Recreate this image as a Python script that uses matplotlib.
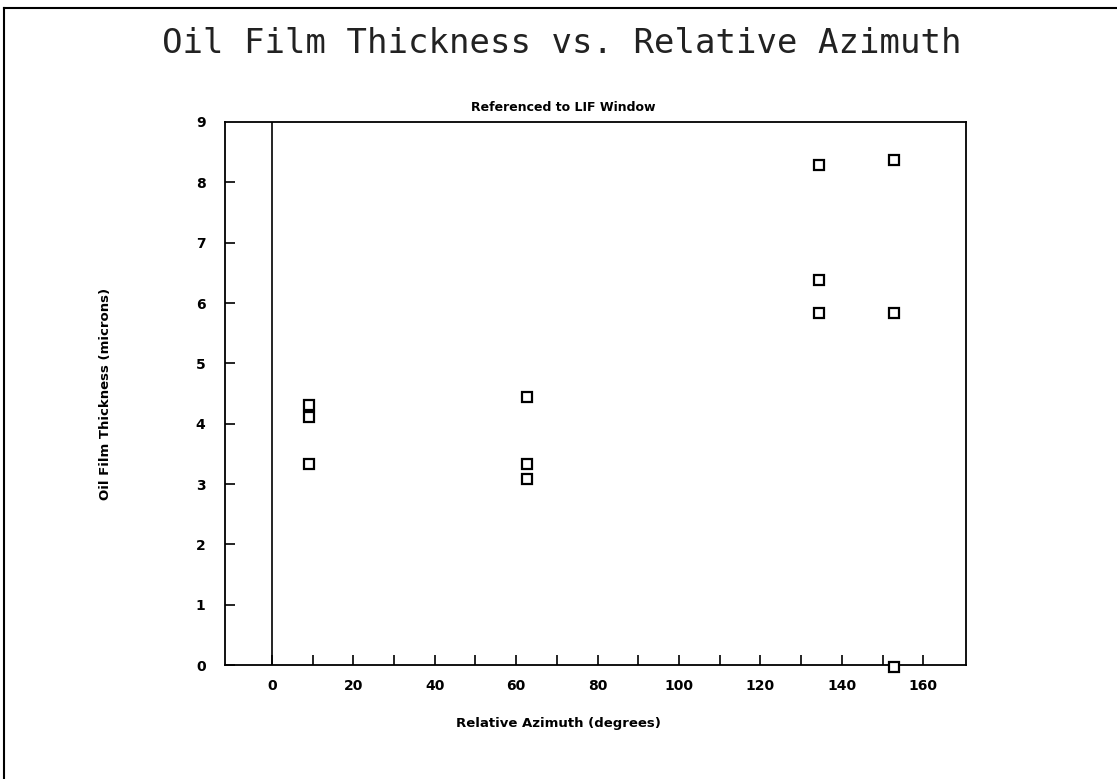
import matplotlib.pyplot as plt
from matplotlib.lines import Line2D

# data
azimuth = [9.2, 9.2, 9.2, 62.6, 62.6, 62.6, 134.4, 134.4, 134.4, 152.8, 152.8, 152.8]
thickness = [4.31, 4.11, 3.33, 4.44, 3.33, 3.08, 8.29, 6.38, 5.84, 8.37, 5.84, -0.03]

x_ticks = list(range(0, 161, 20))
x_minor = list(range(10, 161, 20))
y_ticks = list(range(0, 10))

fig = plt.figure(figsize=(11.17, 7.79), dpi=100)
ax = fig.add_axes([0.2014, 0.1463, 0.6634, 0.6971])

ax.plot(azimuth, thickness, linestyle='none', marker='s', markersize=7,
        markerfacecolor='white', markeredgecolor='black', markeredgewidth=1.6,
        clip_on=False, zorder=3)
ax.axvline(0, color='black', lw=1.2)

ax.set_xlim(-11.5, 170.5)
ax.set_ylim(0, 9)
ax.set_xticks(x_ticks)
ax.set_xticks(x_minor, minor=True)
ax.set_yticks(y_ticks)
ax.tick_params(axis='both', which='both', direction='in', length=7, width=1.2,
               labelsize=10, top=False, right=False)
ax.tick_params(axis='x', pad=10)
ax.tick_params(axis='y', pad=14)
ax.yaxis.get_major_ticks()[-1].tick1line.set_visible(False)
for lab in ax.get_xticklabels() + ax.get_yticklabels():
    lab.set_fontweight('bold')
for s in ax.spines.values():
    s.set_linewidth(1.3)

fig.text(0.503, 0.944, 'Oil Film Thickness vs. Relative Azimuth',
         ha='center', va='center', fontsize=24.5, family='DejaVu Sans Mono',
         color='#222222')
fig.text(0.504, 0.862, 'Referenced to LIF Window', ha='center', va='center',
         fontsize=9, fontweight='bold')
ax.set_xlabel('Relative Azimuth (degrees)', fontsize=9.5, fontweight='bold', labelpad=22)
ax.xaxis.set_label_coords(0.45, -0.095)
ax.set_ylabel('Oil Film Thickness (microns)', fontsize=9.5, fontweight='bold', labelpad=60)

# scanned page border (top and left)
fig.add_artist(Line2D([0.004, 1.0], [0.990, 0.990], color='black', lw=1.5,
                      transform=fig.transFigure))
fig.add_artist(Line2D([0.004, 0.004], [0.0, 0.990], color='black', lw=1.5,
                      transform=fig.transFigure))

fig.savefig('out.png', dpi=100)
